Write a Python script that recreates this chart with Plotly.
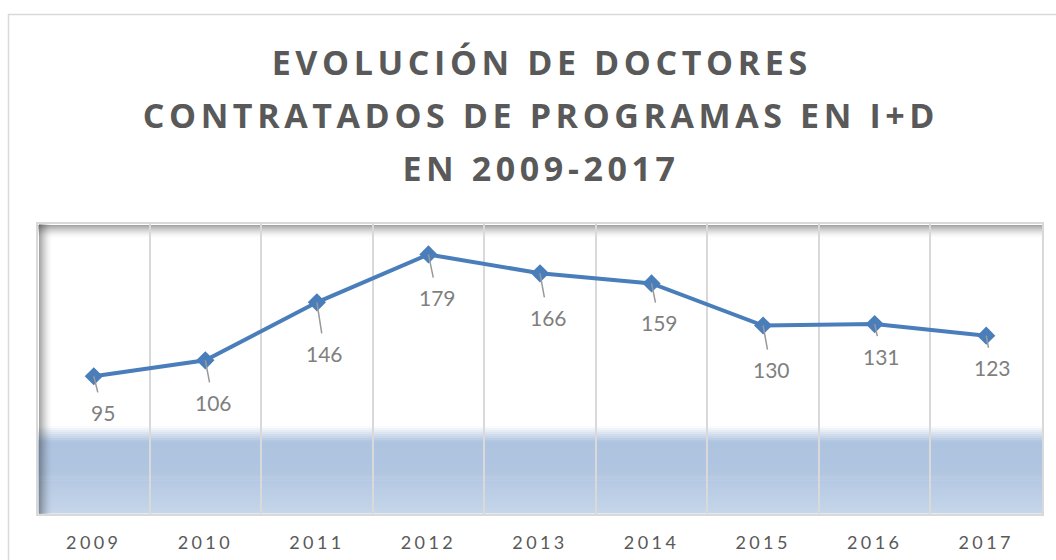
import plotly.graph_objects as go

years = ["2009", "2010", "2011", "2012", "2013", "2014", "2015", "2016", "2017"]
doctores = [95, 106, 146, 179, 166, 159, 130, 131, 123]
title_lines = ["EVOLUCIÓN DE DOCTORES", "CONTRATADOS DE PROGRAMAS EN I+D", "EN 2009-2017"]

# label offsets in pixels (layout only)
label_dx = [9, 8, 8, 9, 8, 8, 8, 7, 6]
label_dy = [36, 42, 51, 43, 44, 39, 44, 32, 32]

W, H = 1056, 560
L, R, T, B = 38, 1042, 224, 514  # plot area in px
PW, PH = R - L, B - T


def px_x(px):
    return (px - L) / PW


def px_y(py):
    return (B - py) / PH


fig = go.Figure()
fig.add_trace(go.Scatter(
    x=years, y=doctores, mode="lines+markers",
    line=dict(color="#4a7ebb", width=4),
    marker=dict(symbol="diamond", size=14, color="#4a7ebb"),
    hoverinfo="x+y", showlegend=False,
))

shapes = []
# blue band gradient (decorative background)
stops = [(426, (255, 255, 255)), (434, (214, 225, 239)), (442, (173, 195, 223)),
         (470, (176, 197, 224)), (513, (198, 214, 234))]
for i in range(len(stops) - 1):
    y0, c0 = stops[i]
    y1, c1 = stops[i + 1]
    n = max(1, (y1 - y0) // 2)
    for k in range(n):
        t = (k + 0.5) / n
        c = tuple(int(round(c0[j] + (c1[j] - c0[j]) * t)) for j in range(3))
        ya = y0 + (y1 - y0) * k / n
        yb = y0 + (y1 - y0) * (k + 1) / n + 0.6
        shapes.append(dict(type="rect", xref="paper", yref="paper", layer="below",
                           x0=0, x1=1, y0=px_y(min(yb, B)), y1=px_y(ya),
                           fillcolor="rgb(%d,%d,%d)" % c, line=dict(width=0)))
# inner shadow left and top
for k in range(13):
    op = 0.42 * (1 - k / 13) ** 1.6
    shapes.append(dict(type="rect", xref="paper", yref="paper", layer="below",
                       x0=px_x(L + 1 + k), x1=px_x(L + 2 + k), y0=0, y1=1,
                       fillcolor="rgba(40,40,40,%.3f)" % op, line=dict(width=0)))
    shapes.append(dict(type="rect", xref="paper", yref="paper", layer="below",
                       x0=0, x1=1, y0=px_y(T + 2 + k), y1=px_y(T + 1 + k),
                       fillcolor="rgba(40,40,40,%.3f)" % op, line=dict(width=0)))
# outer chart border
shapes.append(dict(type="rect", xref="paper", yref="paper", layer="above",
                   x0=px_x(8.5), x1=px_x(1070), y0=px_y(575), y1=px_y(14.5),
                   fillcolor="rgba(0,0,0,0)", line=dict(color="#d9d9d9", width=1.5)))

annotations = []
title_y = [62, 115, 168]
for txt, py in zip(title_lines, title_y):
    annotations.append(dict(text="<b>%s</b>" % txt, xref="paper", yref="paper",
                            x=px_x(541), y=px_y(py), xanchor="center", yanchor="middle",
                            showarrow=False,
                            font=dict(family="Open Sans", size=34, color="#595959")))
for i, (v, dx, dy) in enumerate(zip(doctores, label_dx, label_dy)):
    annotations.append(dict(x=i, y=v, xref="x", yref="y", text=str(v),
                            showarrow=True, arrowhead=0,
                            arrowwidth=1.5, arrowcolor="#999999", ax=dx, ay=dy,
                            standoff=0, startstandoff=6,
                            font=dict(family="Lato", size=21, color="#7f7f7f")))

fig.update_layout(
    width=W, height=H,
    margin=dict(l=L, r=W - R, t=T, b=H - B, pad=0, autoexpand=False),
    paper_bgcolor="white", plot_bgcolor="white",
    shapes=shapes, annotations=annotations,
    xaxis=dict(type="category", tickson="boundaries", showgrid=True,
               gridcolor="#d9d9d9", gridwidth=1.5, ticks="",
               showline=True, mirror=True, linecolor="#d9d9d9", linewidth=2,
               ticklabelstandoff=11, automargin=False,
               tickfont=dict(family="Lato", size=18, color="#595959"),
               range=[-0.5, 8.5]),
    yaxis=dict(range=[0, 200], showgrid=False, showticklabels=False, zeroline=False,
               automargin=False,
               showline=True, mirror=True, linecolor="#d9d9d9", linewidth=2),
)

post = """
var s=document.createElement('style');
s.textContent='body{margin:0;overflow:hidden;} .xtick text{letter-spacing:3.4px;} g.annotation[data-index=\"0\"] text, g.annotation[data-index=\"1\"] text, g.annotation[data-index=\"2\"] text{letter-spacing:4.6px;}';
document.head.appendChild(s);
"""
fig.write_html("out.html", post_script=post, config={"displayModeBar": False})
